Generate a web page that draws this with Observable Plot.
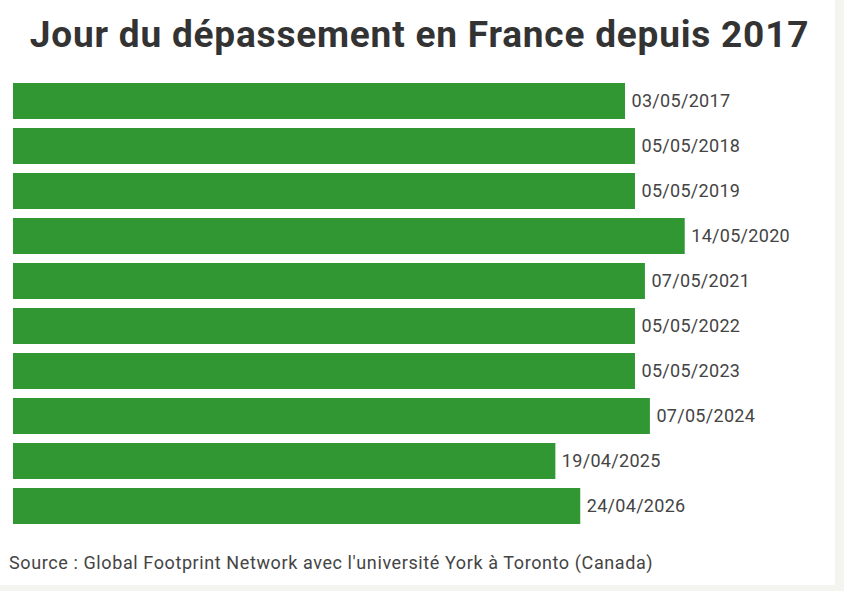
<!DOCTYPE html>
<html>
<head>
<meta charset="utf-8">
<script src="https://cdn.jsdelivr.net/npm/d3@7"></script>
<script src="https://cdn.jsdelivr.net/npm/@observablehq/plot@0.6"></script>
<style>
  html, body { margin: 0; padding: 0; background: #f4f4f0; }
  #card { position: relative; width: 835px; height: 585px; background: #fff; overflow: hidden; }
  #title { position: absolute; left: 2px; top: 16px; width: 835px; text-align: center; line-height: 37px;
    font-family: Roboto, sans-serif; font-weight: 700; font-size: 37px; letter-spacing: 0.8px; color: #333; white-space: nowrap; }
  #chart { position: absolute; left: 0; top: 60px; }
  #chart text { letter-spacing: 0.3px; }
  #source { position: absolute; left: 9px; top: 552px; font-family: Roboto, sans-serif;
    font-size: 18px; letter-spacing: 0.6px; color: #444; white-space: nowrap; }
</style>
</head>
<body>
<div id="card">
  <div id="title">Jour du dépassement en France depuis 2017</div>
  <div id="chart"></div>
  <div id="source">Source : Global Footprint Network avec l'université York à Toronto (Canada)</div>
</div>
<script>
const years = ["2017","2018","2019","2020","2021","2022","2023","2024","2025","2026"];
const dateLabels = ["03/05/2017","05/05/2018","05/05/2019","14/05/2020","07/05/2021","05/05/2022","05/05/2023","07/05/2024","19/04/2025","24/04/2026"];
const dayOfYear = [123,125,125,135,127,125,125,128,109,114];

const data = years.map((y, i) => ({year: y, label: dateLabels[i], day: dayOfYear[i]}));

const chart = Plot.plot({
  width: 835,
  height: 480,
  marginTop: 13.5,
  marginBottom: 7,
  marginLeft: 13,
  marginRight: 1,
  style: {fontFamily: "Roboto, sans-serif", background: "transparent"},
  x: {domain: [0, 165], axis: null},
  y: {domain: years, padding: 0.21, axis: null},
  marks: [
    Plot.barX(data, {x: "day", y: "year", fill: "#309733"}),
    Plot.text(data, {x: "day", y: "year", text: "label", dx: 6, textAnchor: "start",
      fontSize: 18, fill: "#444"})
  ]
});
document.getElementById("chart").appendChild(chart);
</script>
</body>
</html>
